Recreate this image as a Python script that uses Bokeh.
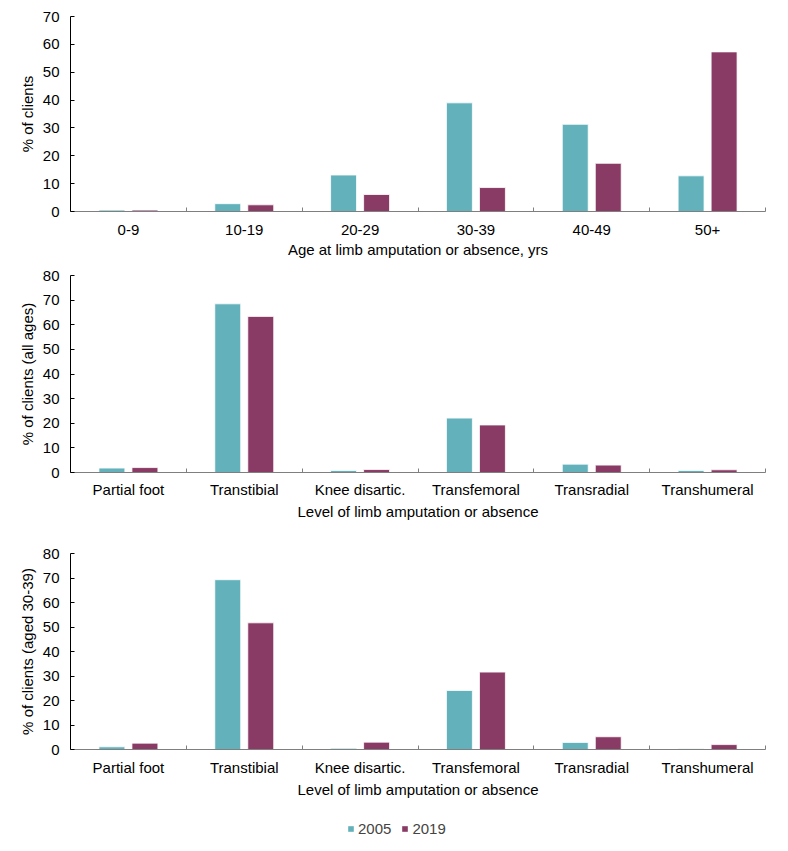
from bokeh.plotting import figure
from bokeh.models import ColumnDataSource, FixedTicker, Legend, LegendItem
from bokeh.layouts import column
from bokeh.embed import file_html
from bokeh.resources import INLINE
from bokeh.transform import dodge

# ---- data ----
age_groups = ["0-9", "10-19", "20-29", "30-39", "40-49", "50+"]
age_2005 = [0.5, 2.8, 13.1, 39.0, 31.3, 12.8]
age_2019 = [0.5, 2.4, 6.1, 8.6, 17.3, 57.3]

levels = ["Partial foot", "Transtibial", "Knee disartic.", "Transfemoral", "Transradial", "Transhumeral"]
all_2005 = [1.8, 68.5, 0.8, 22.1, 3.4, 0.8]
all_2019 = [2.0, 63.4, 1.2, 19.3, 3.0, 1.1]

aged_2005 = [1.1, 69.3, 0.5, 24.1, 2.9, 0.3]
aged_2019 = [2.6, 51.7, 3.0, 31.6, 5.2, 2.0]

years = ["2005", "2019"]
colors = ["#63B1BB", "#893A65"]

FONT = "Liberation Sans"
FS = "15px"
W = 780


def make_panel(cats, v05, v19, ymax, ylabel, xlabel, height, top, bottom, lstand, tstand):
    idx = list(range(len(cats)))
    src = ColumnDataSource(dict(x=idx, a=v05, b=v19))
    p = figure(width=W, height=height, output_backend="svg", toolbar_location=None,
               x_range=(-0.5, len(cats) - 0.5), y_range=(0, ymax),
               min_border_left=70, min_border_right=15,
               min_border_top=top, min_border_bottom=bottom)
    p.vbar(x=dodge("x", -0.1425), top="a", width=0.224, source=src,
           fill_color=colors[0], line_color="white", line_width=0.8)
    p.vbar(x=dodge("x", 0.1425), top="b", width=0.224, source=src,
           fill_color=colors[1], line_color="white", line_width=0.8)
    p.outline_line_color = None
    p.xgrid.grid_line_color = None
    p.ygrid.grid_line_color = None

    xa = p.xaxis[0]
    xa.ticker = FixedTicker(ticks=idx, minor_ticks=[i - 0.5 for i in range(len(cats) + 1)])
    xa.major_label_overrides = {i: c for i, c in enumerate(cats)}
    xa.major_tick_line_color = None
    xa.minor_tick_in = 4
    xa.minor_tick_out = 0
    xa.minor_tick_line_color = "#7f7f7f"
    xa.axis_line_color = "#7f7f7f"
    xa.axis_line_width = 1.2
    xa.major_label_standoff = lstand
    xa.major_label_text_font = FONT
    xa.major_label_text_font_size = FS
    xa.major_label_text_color = "black"
    xa.axis_label = xlabel
    xa.axis_label_text_font = FONT
    xa.axis_label_text_font_size = FS
    xa.axis_label_text_font_style = "normal"
    xa.axis_label_text_color = "black"
    xa.axis_label_standoff = tstand

    ya = p.yaxis[0]
    ya.ticker = FixedTicker(ticks=list(range(0, ymax + 1, 10)))
    ya.minor_tick_line_color = None
    ya.major_tick_in = 4
    ya.major_tick_out = 0
    ya.major_tick_line_color = "black"
    ya.axis_line_color = "black"
    ya.major_label_standoff = 11
    ya.major_label_text_font = FONT
    ya.major_label_text_font_size = FS
    ya.major_label_text_color = "black"
    ya.axis_label = ylabel
    ya.axis_label_text_font = FONT
    ya.axis_label_text_font_size = FS
    ya.axis_label_text_font_style = "normal"
    ya.axis_label_text_color = "black"
    ya.axis_label_standoff = 4
    return p


p1 = make_panel(age_groups, age_2005, age_2019, 70, "% of clients",
                "Age at limb amputation or absence, yrs", 262, 16, 51, 7, 3)
p2 = make_panel(levels, all_2005, all_2019, 80, "% of clients (all ages)",
                "Level of limb amputation or absence", 262, 13, 52, 2, 2)
p3 = make_panel(levels, aged_2005, aged_2019, 80, "% of clients (aged 30-39)",
                "Level of limb amputation or absence", 277, 29, 52, 3, 2)

# legend strip
p4 = figure(width=W, height=50, output_backend="svg", toolbar_location=None,
            x_range=(0, 1), y_range=(0, 1), min_border=0)
p4.axis.visible = False
p4.grid.visible = False
p4.outline_line_color = None
proxy = ColumnDataSource(dict(x=[-10], t=[0]))
r1 = p4.vbar(x="x", top="t", width=0.1, source=proxy, fill_color=colors[0], line_color=None)
r2 = p4.vbar(x="x", top="t", width=0.1, source=proxy, fill_color=colors[1], line_color=None)
legend = Legend(items=[LegendItem(label=years[0], renderers=[r1]),
                       LegendItem(label=years[1], renderers=[r2])],
                orientation="horizontal", location=(277, 14),
                glyph_width=7, glyph_height=7, label_standoff=4, spacing=10,
                padding=0, margin=0, border_line_color=None, background_fill_alpha=0,
                label_text_font=FONT, label_text_font_size=FS)
p4.add_layout(legend)

layout = column(p1, p2, p3, p4, spacing=0)
open("out.html", "w").write(file_html(layout, INLINE))
